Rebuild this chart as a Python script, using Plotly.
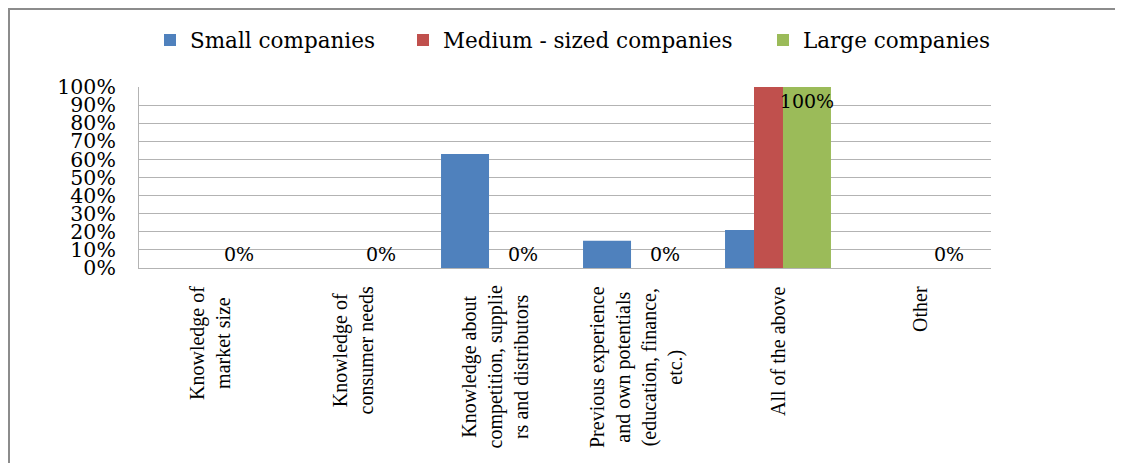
import plotly.graph_objects as go

categories = [
    "Knowledge of market size",
    "Knowledge of consumer needs",
    "Knowledge about competition, suppliers and distributors",
    "Previous experience and own potentials (education, finance, etc.)",
    "All of the above",
    "Other",
]
tick_labels = [
    "Knowledge of<br>market size",
    "Knowledge of<br>consumer needs",
    "Knowledge about<br>competition, supplie<br>rs and distributors",
    "Previous experience<br>and own potentials<br>(education, finance,<br>etc.)",
    "All of the above",
    "Other",
]
small = [0.0, 0.0, 0.63, 0.15, 0.21, 0.0]
medium = [0.0, 0.0, 0.0, 0.0, 1.0, 0.0]
large = [0.0, 0.0, 0.0, 0.0, 1.0, 0.0]
series_names = ["Small companies", "Medium - sized companies", "Large companies"]
y_ticks = [0, 0.1, 0.2, 0.3, 0.4, 0.5, 0.6, 0.7, 0.8, 0.9, 1.0]

FONT = "Liberation Serif"
WFONT = "DejaVu Serif"
colors = ["#4F81BD", "#C0504D", "#9BBB59"]
bar_w = 0.338
step = 0.204

W, H = 1115, 455
L, R, T, B = 131, 132, 79, 195
pw, ph = W - L - R, H - T - B
def px_x(p):
    return (p - L) / pw
def px_y(p):
    return (H - B - p) / ph

legend_ids = ["legend", "legend2", "legend3"]
legend_left_px = [150 - 8, 403 - 8, 763 - 8]

fig = go.Figure()
for i, (name, vals) in enumerate(zip(series_names, [small, medium, large])):
    center = (i - 1) * step
    kw = {}
    if i == 2:
        lab_font = dict(family=WFONT, size=19, color="black")
        kw = dict(
            text=[f"{v:.0%}" for v in vals],
            textposition=["inside" if v > 0 else "outside" for v in vals],
            insidetextanchor="end",
            textangle=0,
            constraintext="none",
            textfont=lab_font,
            outsidetextfont=lab_font,
            insidetextfont=lab_font,
            cliponaxis=False,
        )
    fig.add_trace(go.Bar(
        x=categories, y=vals, name=name, legend=legend_ids[i],
        marker=dict(color=colors[i], line=dict(width=0)),
        width=bar_w, offset=center - bar_w / 2,
        **kw,
    ))

annotations = []
for cat, lab in zip(categories, tick_labels):
    annotations.append(dict(
        x=cat, y=0, xref="x", yref="paper", text=lab, showarrow=False,
        textangle=-90, align="center", xanchor="center", yanchor="top",
        yshift=-16, font=dict(family=FONT, size=20, color="black"),
    ))

shapes = [
    dict(type="line", xref="paper", yref="paper", x0=px_x(0), x1=px_x(W), y0=px_y(1), y1=px_y(1),
         line=dict(color="#8c8c8c", width=2)),
    dict(type="line", xref="paper", yref="paper", x0=px_x(1), x1=px_x(1), y0=px_y(0), y1=px_y(H),
         line=dict(color="#8c8c8c", width=2)),
]

legend_layout = {}
for lid, lx in zip(legend_ids, legend_left_px):
    legend_layout[lid] = dict(
        orientation="h", x=px_x(lx), xanchor="left", y=px_y(32), yanchor="middle",
        font=dict(family=WFONT, size=21.5, color="black"),
        itemwidth=30, bgcolor="rgba(0,0,0,0)",
    )

fig.update_layout(
    width=W, height=H,
    margin=dict(l=L, r=R, t=T, b=B, pad=0),
    barmode="overlay",
    plot_bgcolor="white", paper_bgcolor="white",
    font=dict(family=FONT, size=20, color="black"),
    showlegend=True,
    annotations=annotations,
    shapes=shapes,
    **legend_layout,
)
fig.update_xaxes(
    type="category", showticklabels=False, showline=True, linecolor="#b3b3b3", linewidth=1,
    showgrid=False, ticks="", range=[-0.5, len(categories) - 0.5],
)
fig.update_yaxes(
    range=[0, 1], tickvals=y_ticks, tickformat=".0%",
    showgrid=True, gridcolor="#b3b3b3", gridwidth=1,
    showline=True, linecolor="#b3b3b3", linewidth=1,
    ticks="", ticklabelstandoff=18, zeroline=False,
    tickfont=dict(family=WFONT, size=20.5, color="black"),
)

fig.write_html("out.html")
